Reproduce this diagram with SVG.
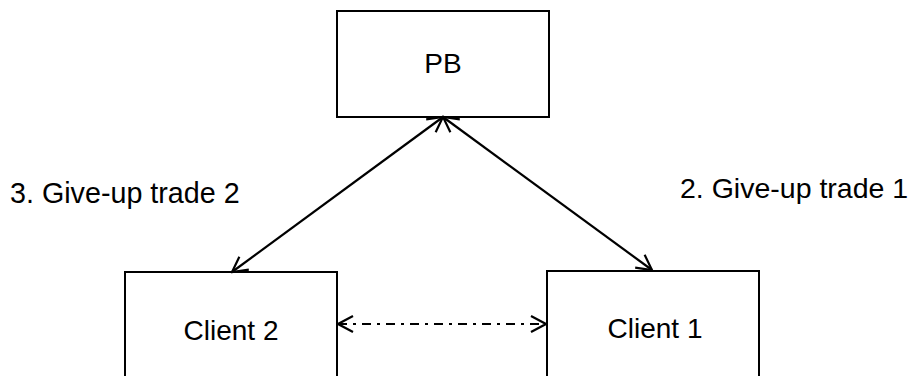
<svg xmlns="http://www.w3.org/2000/svg" width="912" height="376" viewBox="0 0 912 376">
<defs>
<marker id="arr" viewBox="0 0 20 20" refX="18" refY="10" markerWidth="20" markerHeight="20" markerUnits="userSpaceOnUse" orient="auto-start-reverse">
<path d="M3,2 L18,10 L3,18" fill="none" stroke="#000" stroke-width="2.2"/>
</marker>
<style>
.box{fill:#fff;stroke:#000;stroke-width:2}
.lbl{font-family:"Liberation Sans",Arial,sans-serif;font-size:28px;fill:#000}
.edge{stroke:#000;stroke-width:2.2;fill:none}
</style>
</defs>
<rect width="912" height="376" fill="#fff"/>
<g id="pb">
<rect class="box" x="337" y="11" width="212" height="106"/>
<text class="lbl" x="443" y="73" text-anchor="middle">PB</text>
</g>
<g id="client2">
<rect class="box" x="125" y="272" width="212" height="120"/>
<text class="lbl" x="231" y="340" text-anchor="middle">Client 2</text>
</g>
<g id="client1">
<rect class="box" x="547" y="271" width="212" height="120"/>
<text class="lbl" x="655" y="338" text-anchor="middle">Client 1</text>
</g>
<g id="connectors">
<line class="edge" x1="443" y1="117" x2="232" y2="272" marker-start="url(#arr)" marker-end="url(#arr)"/>
<line class="edge" x1="443" y1="117" x2="652" y2="270" marker-start="url(#arr)" marker-end="url(#arr)"/>
<line class="edge" x1="338" y1="324" x2="546" y2="324" stroke-dasharray="9,6,3,6" marker-start="url(#arr)" marker-end="url(#arr)"/>
</g>
<g id="labels">
<text class="lbl" x="10" y="203" style="font-size:28.7px">3. Give-up trade 2</text>
<text class="lbl" x="680" y="198" style="font-size:28.5px">2. Give-up trade 1</text>
</g>
</svg>
